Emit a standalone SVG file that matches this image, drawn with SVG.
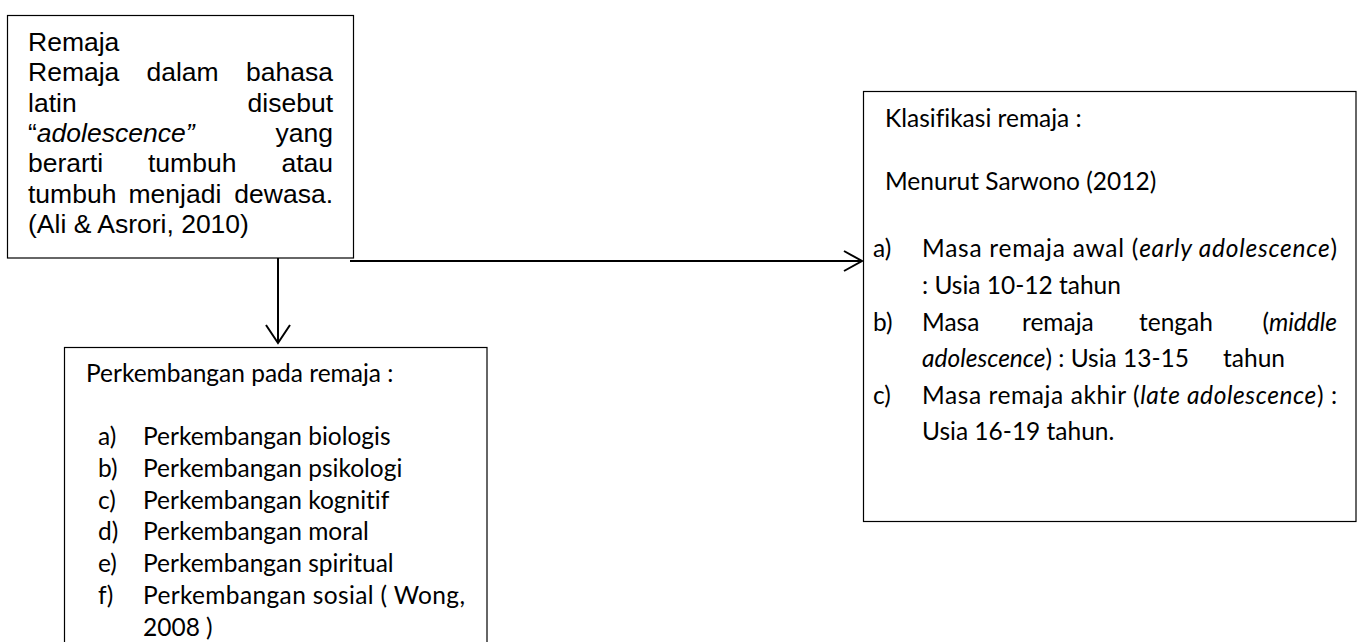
<svg xmlns="http://www.w3.org/2000/svg" width="1358" height="642" viewBox="0 0 1358 642">
<style>
.box{fill:#fff;stroke:#000;stroke-width:1.2}
.ar{font-family:"Liberation Sans",Arial,sans-serif;font-size:26.5px;fill:#000}
.ca{font-family:Lato,"Open Sans",sans-serif;font-size:24.5px;fill:#000;font-variant-ligatures:none}
.it{font-style:italic}
.con{fill:none;stroke:#000;stroke-width:2}
</style>
<rect width="1358" height="642" fill="#fff"/>
<g id="node-remaja">
<rect class="box" x="7.5" y="15.5" width="346" height="242.5"/>
<text class="ar" x="28" y="51">Remaja</text>
<text class="ar" y="81"><tspan x="28">Remaja</tspan><tspan x="146.5">dalam</tspan><tspan x="333" text-anchor="end">bahasa</tspan></text>
<text class="ar" y="112"><tspan x="28">latin</tspan><tspan x="333" text-anchor="end">disebut</tspan></text>
<text class="ar" y="142"><tspan x="28">“<tspan class="it">adolescence”</tspan></tspan><tspan x="333" text-anchor="end">yang</tspan></text>
<text class="ar" y="172"><tspan x="28">berarti</tspan><tspan x="148">tumbuh</tspan><tspan x="333" text-anchor="end">atau</tspan></text>
<text class="ar" y="203"><tspan x="28">tumbuh</tspan><tspan x="128.5">menjadi</tspan><tspan x="333" text-anchor="end">dewasa.</tspan></text>
<text class="ar" x="28" y="233">(Ali &amp; Asrori, 2010)</text>
</g>
<g id="node-perkembangan">
<rect class="box" x="64.5" y="347.5" width="422.5" height="320"/>
<text class="ca" x="86" y="382">Perkembangan pada remaja :</text>
<text class="ca" x="98" y="445">a)</text><text class="ca" x="143" y="445">Perkembangan biologis</text>
<text class="ca" x="98" y="477">b)</text><text class="ca" x="143" y="477">Perkembangan psikologi</text>
<text class="ca" x="98" y="509">c)</text><text class="ca" x="143" y="509">Perkembangan kognitif</text>
<text class="ca" x="98" y="540">d)</text><text class="ca" x="143" y="540">Perkembangan moral</text>
<text class="ca" x="98" y="572">e)</text><text class="ca" x="143" y="572">Perkembangan spiritual</text>
<text class="ca" x="98" y="604">f)</text><text class="ca" x="143" y="604" textLength="322" lengthAdjust="spacing">Perkembangan sosial ( Wong,</text>
<text class="ca" x="143" y="636">2008 )</text>
</g>
<g id="node-klasifikasi">
<rect class="box" x="863.5" y="91.5" width="492.5" height="430"/>
<text class="ca" x="885" y="127">Klasifikasi remaja :</text>
<text class="ca" x="885" y="190">Menurut Sarwono (2012)</text>
<text class="ca" x="873" y="257">a)</text>
<text class="ca" x="922" y="257" textLength="415" lengthAdjust="spacing">Masa remaja awal (<tspan class="it">early adolescence</tspan>)</text>
<text class="ca" x="922" y="294">: Usia 10-12 tahun</text>
<text class="ca" x="873" y="331">b)</text>
<text class="ca" y="331"><tspan x="922">Masa</tspan><tspan x="1022">remaja</tspan><tspan x="1139">tengah</tspan><tspan x="1337" text-anchor="end">(<tspan class="it">middle</tspan></tspan></text>
<text class="ca" x="922" y="367"><tspan class="it">adolescence</tspan>) : Usia 13-15</text>
<text class="ca" x="1223" y="367">tahun</text>
<text class="ca" x="873" y="404">c)</text>
<text class="ca" x="922" y="404" textLength="415" lengthAdjust="spacing">Masa remaja akhir (<tspan class="it">late adolescence</tspan>) :</text>
<text class="ca" x="922" y="440">Usia 16-19 tahun.</text>
</g>
<g id="connectors">
<line class="con" x1="278" y1="258" x2="278" y2="342"/>
<polyline class="con" points="266,325 278,343 290,325"/>
<line class="con" x1="350" y1="261" x2="861" y2="261"/>
<polyline class="con" points="844,251 862,261 844,271"/>
</g>
</svg>
